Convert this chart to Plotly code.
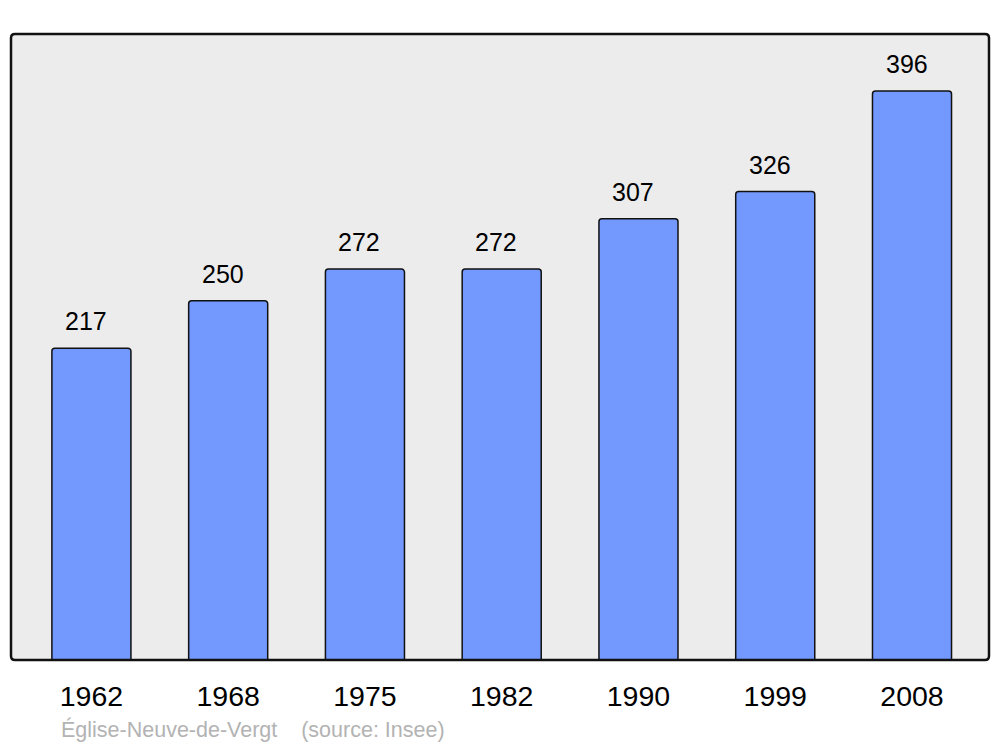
import plotly.graph_objects as go

years = ["1962", "1968", "1975", "1982", "1990", "1999", "2008"]
population = [217, 250, 272, 272, 307, 326, 396]

BAR_COLOR = "#7399ff"
BG = "#ececec"
FONT = "Liberation Sans, Arial"

fig = go.Figure()
fig.add_trace(go.Bar(
    x=list(range(len(years))), y=population,
    width=0.578,
    marker=dict(color=BAR_COLOR, line=dict(color="#111111", width=1.5), cornerradius=3),
    hoverinfo="skip",
))

for i, v in enumerate(population):
    fig.add_annotation(
        x=i, y=v, text=str(v), showarrow=False,
        yanchor="bottom", yshift=11, xshift=-5.5,
        font=dict(family=FONT, size=25, color="#000000"),
    )

# rounded frame around the plot area
rx, ry = 4 / 978, 4 / 626
path = (f"M {rx},0 L {1-rx},0 Q 1,0 1,{ry} L 1,{1-ry} Q 1,1 {1-rx},1 "
        f"L {rx},1 Q 0,1 0,{1-ry} L 0,{ry} Q 0,0 {rx},0 Z")
fig.add_shape(type="path", xref="paper", yref="paper", path=path,
              line=dict(color="#111111", width=2.5), layer="above")

fig.add_annotation(
    xref="paper", yref="paper", x=(59 - 11) / 978, y=(660 - 729) / 626,
    xanchor="left", yanchor="middle", showarrow=False,
    text="Église-Neuve-de-Vergt    (source: Insee)",
    font=dict(family=FONT, size=21.5, color="#b3b3b3"),
)

fig.update_layout(
    width=1000, height=747,
    margin=dict(l=11, r=11, t=34, b=87),
    plot_bgcolor=BG, paper_bgcolor="#ffffff",
    showlegend=False,
    xaxis=dict(
        range=[-0.588, 6.563], tickmode="array",
        tickvals=list(range(len(years))), ticktext=years,
        tickfont=dict(family=FONT, size=28.5, color="#000000"),
        showgrid=False, zeroline=False, ticks="", ticklabelstandoff=16,
        fixedrange=True,
    ),
    yaxis=dict(range=[0, 435.6], visible=False, showgrid=False,
               zeroline=False, fixedrange=True),
)

fig.write_html("out.html", config={"displayModeBar": False},
               post_script="document.body.style.margin='0';")
